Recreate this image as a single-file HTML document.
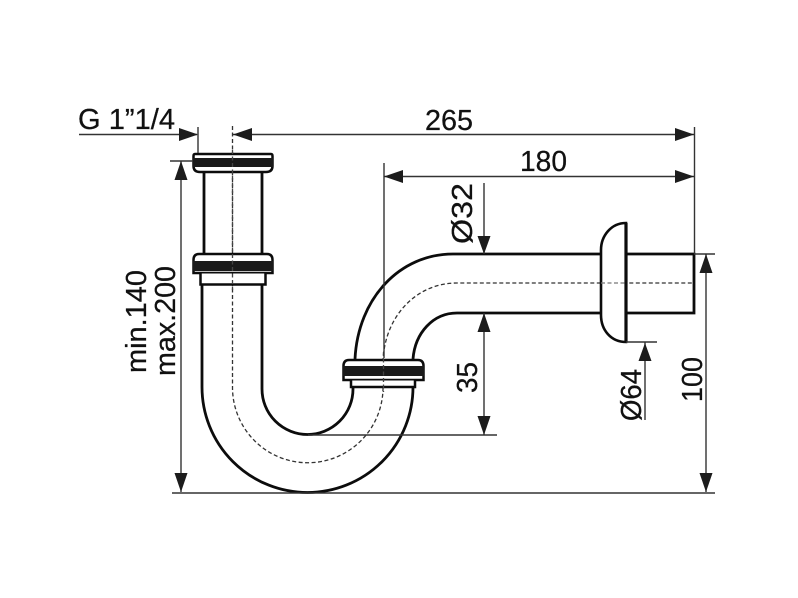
<!DOCTYPE html>
<html>
<head>
<meta charset="utf-8">
<style>
html,body{margin:0;padding:0;background:#fff;width:798px;height:598px;overflow:hidden}
svg{display:block}
text{font-family:"Liberation Sans",sans-serif;font-size:28.5px;fill:#111;stroke:#111;stroke-width:.25px}
</style>
</head>
<body>
<svg width="798" height="598" viewBox="0 0 798 598" xmlns="http://www.w3.org/2000/svg">
<rect width="798" height="598" fill="#fff"/>

<!-- centre lines (dashed) -->
<g fill="none" stroke="#333" stroke-width="1.3" stroke-dasharray="4 2.5">
  <path d="M232.500 126V387A75 75 0 0 0 383 388"/>
  <path d="M383 388V362C384 318 415 283 457 283H692"/>
</g>

<!-- pipe outlines -->
<g fill="none" stroke="#0c0c0c" stroke-linecap="butt" stroke-width="2.800">
  <path d="M204 173V253M262 173V253"/>
  <path d="M202 285V387A105.500 105.500 0 0 0 413 387V381"/>
  <path d="M262 285V389A45.500 45.500 0 0 0 353 389V381"/>
  <path d="M355 359C358 298 400 254 453 254H601"/>
  <path d="M413 359C415 333 433 313 457 313H601"/>
  <path d="M626 254H694V313H626"/>
</g>

<!-- wall flange -->
<path d="M626 223C611 223 601 236 601 250V315C601 330 611 342 626 342Z" fill="#fff" stroke="#0c0c0c" stroke-width="2.600"/>
<path d="M626 223V342" stroke="#0c0c0c" stroke-width="3.200"/>
<path d="M601 283H626" stroke="#777" stroke-width="1.200" stroke-dasharray="4 2.500"/>

<!-- top flange -->
<path d="M195 154H271Q272.500 154 272.500 156V166Q272.500 172 266 172H200Q193.500 172 193.500 166V156Q193.500 154 195 154Z" fill="#fff" stroke="#0c0c0c" stroke-width="2.500"/>
<rect x="193" y="158" width="80" height="9" fill="#1a1a1a"/>

<!-- second flange -->
<path d="M199 254H267Q272.500 254 272.500 260V273H193.500V260Q193.500 254 199 254Z" fill="#fff" stroke="#0c0c0c" stroke-width="2.500"/>
<rect x="193" y="261" width="80" height="10" fill="#1a1a1a"/>
<path d="M200.500 273.500V284.500H265.500V273.500" fill="#fff" stroke="#0c0c0c" stroke-width="2.500"/>

<!-- third flange -->
<path d="M349 360H418Q423.500 360 423.500 366V380H343.500V366Q343.500 360 349 360Z" fill="#fff" stroke="#0c0c0c" stroke-width="2.500"/>
<rect x="343" y="366" width="81" height="10" fill="#1a1a1a"/>
<path d="M351 380.500V387H415V380.500" fill="#fff" stroke="#0c0c0c" stroke-width="2.500"/>

<!-- centre lines through flanges -->
<g stroke="#444" stroke-width="1.300" stroke-dasharray="4 2.500">
  <path d="M232.500 150V290"/>
  <path d="M383.500 352V392"/>
</g>

<!-- dimension + extension lines -->
<g fill="none" stroke="#333" stroke-width="1.400">
  <path d="M79 134.500H197M233 134.500H694"/>
  <path d="M198 127V153"/>
  <path d="M384 176.500H694"/>
  <path d="M384 163V358"/>
  <path d="M694.500 127V254"/>
  <path d="M694 254H715"/>
  <path d="M706 254V492"/>
  <path d="M172 493H715"/>
  <path d="M170 161H193"/>
  <path d="M181 161V492"/>
  <path d="M484 183V254"/>
  <path d="M484 313V435"/>
  <path d="M308 435H497"/>
  <path d="M626 342H657"/>
  <path d="M645 342V420"/>
</g>

<!-- arrowheads -->
<g fill="#1c1c1c">
  <path d="M198 134.500L179 128V141Z"/>
  <path d="M233 134.500L252 128V141Z"/>
  <path d="M694 134.500L675 128V141Z"/>
  <path d="M384 176.500L403 170V183Z"/>
  <path d="M694 176.500L675 170V183Z"/>
  <path d="M181 161L174.500 180H187.500Z"/>
  <path d="M181 492L174.500 473H187.500Z"/>
  <path d="M484 254L477.500 236H490.500Z"/>
  <path d="M484 313L477.500 332H490.500Z"/>
  <path d="M484 435L477.500 416H490.500Z"/>
  <path d="M645 343L638.500 361H651.500Z"/>
  <path d="M706 254L699.500 273H712.500Z"/>
  <path d="M706 492L699.500 473H712.500Z"/>
</g>

<!-- labels -->
<text x="78" y="129" textLength="97" lengthAdjust="spacingAndGlyphs">G 1”1/4</text>
<text x="425" y="130" textLength="48" lengthAdjust="spacingAndGlyphs">265</text>
<text x="520" y="171" textLength="47" lengthAdjust="spacingAndGlyphs">180</text>
<text transform="translate(472 244) rotate(-90)" textLength="61" lengthAdjust="spacingAndGlyphs">Ø32</text>
<text transform="translate(477 393) rotate(-90)" textLength="31" lengthAdjust="spacingAndGlyphs">35</text>
<text transform="translate(641 421) rotate(-90)" textLength="52" lengthAdjust="spacingAndGlyphs">Ø64</text>
<text transform="translate(702 402) rotate(-90)" textLength="45" lengthAdjust="spacingAndGlyphs">100</text>
<text transform="translate(146 373) rotate(-90)" textLength="103" lengthAdjust="spacingAndGlyphs">min.140</text>
<text transform="translate(175 376) rotate(-90)" textLength="110" lengthAdjust="spacingAndGlyphs">max.200</text>
</svg>
</body>
</html>
